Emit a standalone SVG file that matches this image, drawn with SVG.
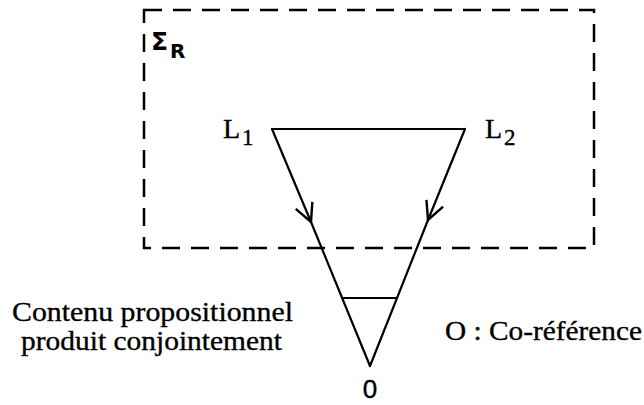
<svg xmlns="http://www.w3.org/2000/svg" width="644" height="405" viewBox="0 0 644 405">
<style>
.serif{font-family:"Liberation Serif","Times New Roman",serif;fill:#000;stroke:#000;stroke-width:0.35}
.line{stroke:#000;stroke-width:2.2;fill:none;stroke-linecap:round}
</style>
<defs>
<marker id="arr" viewBox="-20 -11 22 22" markerWidth="22" markerHeight="22" refX="0" refY="0" orient="auto" markerUnits="userSpaceOnUse">
<path d="M-18,-9 L0,0 L-18,9" stroke="#000" stroke-width="2.4" fill="none"/>
</marker>
</defs>
<rect width="644" height="405" fill="#fff"/>
<g id="frame">
<rect x="144" y="10" width="450" height="238" fill="none" stroke="#000" stroke-width="2.5" stroke-dasharray="18,11"/>
<text x="151" y="50" font-family="DejaVu Sans,sans-serif" font-weight="bold" font-size="25">Σ<tspan font-size="20" dx="2" dy="8">R</tspan></text>
</g>
<g id="connectors">
<line class="line" x1="272" y1="129" x2="311" y2="222" marker-end="url(#arr)"/>
<line class="line" x1="311" y1="222" x2="370" y2="366"/>
<line class="line" x1="465" y1="129" x2="428" y2="220" marker-end="url(#arr)"/>
<line class="line" x1="428" y1="220" x2="370" y2="366"/>
<line class="line" x1="272" y1="129" x2="465" y2="129"/>
<line class="line" x1="342" y1="298" x2="397" y2="298"/>
</g>
<g id="L1"><text class="serif" x="223" y="138" font-size="28">L<tspan font-size="23" dx="2" dy="7">1</tspan></text></g>
<g id="L2"><text class="serif" x="485" y="138" font-size="28">L<tspan font-size="23" dx="2" dy="7">2</tspan></text></g>
<g id="contenu">
<text class="serif" x="12" y="321" font-size="28" textLength="281" lengthAdjust="spacingAndGlyphs">Contenu propositionnel</text>
<text class="serif" x="21" y="350" font-size="28" textLength="261" lengthAdjust="spacingAndGlyphs">produit conjointement</text>
</g>
<g id="coref"><text class="serif" x="445" y="340" font-size="28" textLength="197" lengthAdjust="spacingAndGlyphs">O : Co-référence</text></g>
<g id="zero"><text x="370" y="398" font-family="Liberation Sans,Arial,sans-serif" font-size="26" stroke="#000" stroke-width="0.4" text-anchor="middle">0</text></g>
</svg>
